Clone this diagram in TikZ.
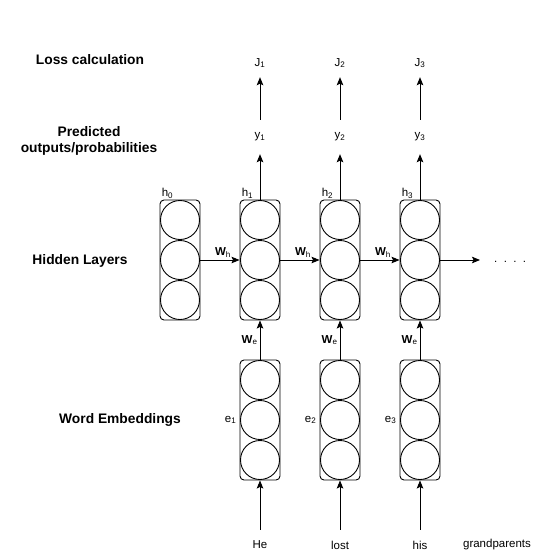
\documentclass[tikz,border=0pt]{standalone}
\usepackage{fontspec}
\setmainfont{Liberation Sans}
\usetikzlibrary{positioning,arrows.meta}

\begin{document}
\begin{tikzpicture}[x=1pt, y=-1pt,
    layer/.style = {draw, line width=0.9pt, rounded corners=4pt, minimum width=40pt, minimum height=120pt, inner sep=0pt},
    unit/.style = {draw, line width=0.9pt, circle, minimum size=39pt, inner sep=0pt},
    rowlbl/.style = {font=\fontsize{13.8}{16.5}\selectfont\bfseries, align=center},
    lbl/.style = {font=\fontsize{11.5}{13}\selectfont, inner sep=2pt},
    outlbl/.style = {lbl, minimum height=34pt},
    losslbl/.style = {lbl, minimum height=28pt},
    wordlbl/.style = {lbl, minimum height=30pt},
    wlbl/.style = {font=\fontsize{11.5}{13}\selectfont, inner sep=2pt},
    conn/.style = {-{Stealth[length=8pt, width=6.5pt, inset=1.5pt]}, line width=0.9pt}]
  \useasboundingbox (0,0) rectangle (536,560);

  % row labels
  \node[rowlbl] (loss) at (90,60) {Loss calculation};
  \node[rowlbl] (pred) at (89,141) {Predicted\\outputs/probabilities};
  \node[rowlbl] (hid) at (80,261) {Hidden Layers};
  \node[rowlbl] (emb) at (120,420) {Word Embeddings};

  % hidden state 0
  \node[layer] (h0) at (180,260) {};
  \node[lbl, anchor=south west] (h0l) at ([yshift=-1pt]h0.north west) {h\textsubscript{0}};

  % time steps
  \foreach \i/\x/\w in {1/260/He, 2/340/lost, 3/420/his} {
    \node[layer] (h\i) at (\x,260) {};
    \node[layer] (e\i) at (\x,420) {};
    \node[lbl, anchor=south west] (h\i l) at ([yshift=-1pt]h\i.north west) {h\textsubscript{\i}};
    \node[lbl, left=1pt of e\i] (e\i l) {e\textsubscript{\i}};
    \node[outlbl] (y\i) at (\x,137) {y\textsubscript{\i}};
    \node[losslbl] (J\i) at (\x,63) {J\textsubscript{\i}};
    \node[wordlbl] (w\i) at (\x,545) {\w};
    \draw[conn] (w\i) -- (e\i);
    \draw[conn] (e\i) -- node[wlbl, left] {\textbf{W}\textsubscript{e}} (h\i);
    \draw[conn] (h\i) -- (y\i);
    \draw[conn] (y\i) -- (J\i);
  }
  \node[lbl] (w4) at (497,545) {grandparents};

  % units inside the layers
  \foreach \n in {h0,h1,h2,h3,e1,e2,e3}
    \foreach \k in {-40,0,40}
      \node[unit] at ([yshift=\k pt]\n.center) {};

  % recurrence
  \draw[conn] (h0) -- node[wlbl, above, xshift=3pt] {\textbf{W}\textsubscript{h}} (h1);
  \draw[conn] (h1) -- node[wlbl, above, xshift=3pt] {\textbf{W}\textsubscript{h}} (h2);
  \draw[conn] (h2) -- node[wlbl, above, xshift=3pt] {\textbf{W}\textsubscript{h}} (h3);
  \coordinate (tail) at (480,260);
  \draw[conn] (h3) -- (tail);
  \node[lbl, anchor=base west] (more) at (492,262) {.\ \ .\ \ .\ \ .};
\end{tikzpicture}
\end{document}
